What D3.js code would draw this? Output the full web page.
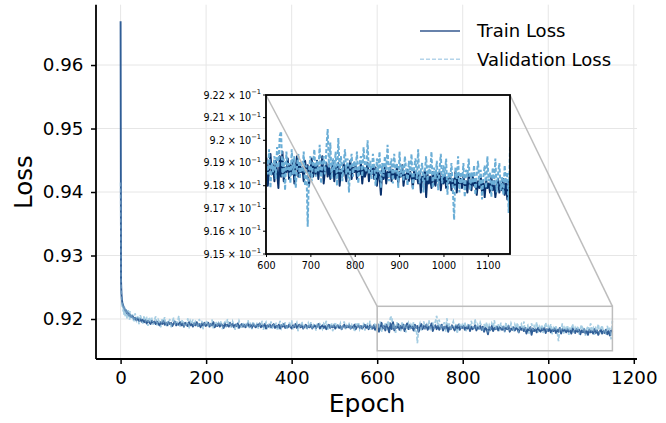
<!DOCTYPE html>
<html><head><meta charset="utf-8">
<script src="https://cdn.jsdelivr.net/npm/d3@7/dist/d3.min.js"></script>
<style>body{margin:0;background:#fff}svg{display:block;font-family:"DejaVu Sans",sans-serif}</style>
</head><body><svg id="c" width="666" height="423"></svg>
<script>
// early epochs 0..21 (every epoch), then every 3 epochs from 22 to 1150
const earlyEpochs = d3.range(0, 22);
const lateEpochs = d3.range(22, 1151, 3);
const epochs = earlyEpochs.concat(lateEpochs);

const trainLoss = [
0.9669,0.9262,0.9241,0.9231,0.9226,0.9223,0.9221,0.9219,0.9218,0.9216,0.9215,0.9213,0.9214,0.9211,0.9212,0.9209,0.9210,0.9208,0.9209,0.9206,0.9208,0.9205,
0.9207,0.9203,0.9205,0.9200,0.9202,0.9198,0.9201,0.9197,0.9200,0.9196,
0.9199,0.9195,0.9198,0.9193,0.9197,0.9195,0.9192,0.9197,0.9194,0.9196,
0.9192,0.9196,0.9193,0.9190,0.9195,0.9192,0.9197,0.9191,0.9194,0.9190,
0.9195,0.9192,0.9194,0.9189,0.9193,0.9196,0.9190,0.9193,0.9191,0.9195,
0.9190,0.9193,0.9188,0.9194,0.9191,0.9189,0.9195,0.9190,0.9192,0.9188,
0.9193,0.9190,0.9195,0.9189,0.9192,0.9187,0.9193,0.9190,0.9194,0.9189,
0.9191,0.9194,0.9188,0.9192,0.9190,0.9195,0.9187,0.9191,0.9189,0.9193,
0.9188,0.9192,0.9190,0.9186,0.9193,0.9189,0.9191,0.9188,0.9194,0.9189,
0.9192,0.9187,0.9191,0.9189,0.9193,0.9186,0.9190,0.9192,0.9188,0.9191,
0.9187,0.9190,0.9193,0.9188,0.9191,0.9186,0.9192,0.9189,0.9187,0.9191,
0.9189,0.9193,0.9187,0.9190,0.9188,0.9192,0.9185,0.9190,0.9188,0.9191,
0.9187,0.9190,0.9192,0.9186,0.9189,0.9187,0.9191,0.9185,0.9190,0.9188,
0.9192,0.9186,0.9189,0.9187,0.9191,0.9188,0.9185,0.9190,0.9187,0.9192,
0.9186,0.9189,0.9191,0.9187,0.9190,0.9185,0.9188,0.9191,0.9186,0.9189,
0.9187,0.9191,0.9185,0.9188,0.9190,0.9186,0.9189,0.9192,0.9185,0.9188,
0.9190,0.9186,0.9189,0.9184,0.9188,0.9191,0.9186,0.9189,0.9187,0.9190,
0.9185,0.9188,0.9190,0.9186,0.9189,0.9184,0.9188,0.9191,0.9186,0.9189,
0.9187,0.9190,0.9185,0.9188,0.9186,0.9191,0.9184,0.9188,0.9190,0.9186,
0.9189,0.9185,0.9188,0.9191,0.9186,0.9189,0.9184,0.9190,0.9187,0.9185,
0.9190,0.9183,0.9188,0.9192,0.9180,0.9187,0.9194,0.9185,0.9189,0.9182,
0.9191,0.9186,0.9179,0.9193,0.9184,0.9195,0.9182,0.9188,0.9186,0.9192,
0.9183,0.9189,0.9185,0.9191,0.9181,0.9188,0.9193,0.9184,0.9190,0.9186,
0.9188,0.9182,0.9191,0.9186,0.9189,0.9180,0.9187,0.9192,0.9184,0.9189,
0.9185,0.9191,0.9183,0.9188,0.9186,0.9193,0.9181,0.9187,0.9190,0.9184,
0.9189,0.9183,0.9187,0.9191,0.9182,0.9188,0.9185,0.9190,0.9180,0.9187,
0.9184,0.9190,0.9186,0.9182,0.9189,0.9185,0.9191,0.9183,0.9188,0.9186,
0.9189,0.9183,0.9187,0.9185,0.9190,0.9181,0.9188,0.9184,0.9186,0.9190,
0.9182,0.9187,0.9185,0.9189,0.9183,0.9188,0.9180,0.9186,0.9184,0.9176,
0.9187,0.9183,0.9189,0.9181,0.9186,0.9184,0.9188,0.9182,0.9187,0.9185,
0.9183,0.9188,0.9181,0.9186,0.9184,0.9189,0.9180,0.9185,0.9183,0.9187,
0.9182,0.9186,0.9184,0.9179,0.9187,0.9183,0.9185,0.9181,0.9186,0.9177,
0.9184,0.9182,0.9187,0.9175,0.9185,0.9181,0.9184,0.9179,0.9186,0.9182,
0.9180,0.9185,0.9182,0.9186,0.9178,0.9184,0.9181,0.9185,0.9179,0.9183,
0.9181,0.9185,0.9178,0.9183,0.9180,0.9186,0.9177,0.9184,0.9181,0.9183,
0.9179,0.9184,0.9180,0.9182,0.9177,0.9185,0.9181,0.9178,0.9184,0.9180,
0.9183,0.9176,0.9182,0.9179,0.9184,0.9177,0.9181,0.9175,0.9183,0.9179,
0.9181,0.9177,0.9184,0.9178,0.9182,0.9175,0.9180,0.9183,0.9177,0.9181,
0.9178,0.9183,0.9176,0.9181,0.9174,0.9182,0.9179];

const valLoss = [
0.9415,0.9262,0.9236,0.9224,0.9218,0.9226,0.9212,0.9221,0.9206,0.9219,0.9210,0.9204,0.9216,0.9208,0.9213,0.9201,0.9211,0.9205,0.9214,0.9203,0.9209,0.9199,
0.9212,0.9200,0.9207,0.9195,0.9209,0.9198,0.9204,0.9192,0.9206,0.9199,
0.9193,0.9205,0.9197,0.9201,0.9189,0.9203,0.9196,0.9200,0.9191,0.9198,
0.9204,0.9190,0.9199,0.9195,0.9187,0.9201,0.9194,0.9203,0.9189,0.9197,
0.9192,0.9200,0.9186,0.9196,0.9202,0.9190,0.9198,0.9193,0.9205,0.9188,
0.9195,0.9199,0.9187,0.9194,0.9191,0.9201,0.9185,0.9197,0.9192,0.9199,
0.9188,0.9196,0.9193,0.9186,0.9200,0.9190,0.9197,0.9184,0.9195,0.9192,
0.9198,0.9187,0.9194,0.9190,0.9199,0.9185,0.9193,0.9196,0.9188,0.9194,
0.9190,0.9197,0.9184,0.9192,0.9195,0.9187,0.9200,0.9189,0.9193,0.9186,
0.9196,0.9190,0.9183,0.9194,0.9188,0.9197,0.9191,0.9185,0.9195,0.9189,
0.9193,0.9186,0.9198,0.9188,0.9192,0.9184,0.9196,0.9190,0.9187,0.9194,
0.9185,0.9192,0.9189,0.9197,0.9183,0.9191,0.9195,0.9187,0.9193,0.9188,
0.9196,0.9184,0.9191,0.9188,0.9194,0.9182,0.9190,0.9197,0.9186,0.9192,
0.9188,0.9195,0.9183,0.9190,0.9193,0.9186,0.9198,0.9184,0.9191,0.9189,
0.9194,0.9181,0.9190,0.9187,0.9196,0.9185,0.9192,0.9188,0.9183,0.9193,
0.9187,0.9195,0.9184,0.9191,0.9189,0.9182,0.9194,0.9186,0.9192,0.9188,
0.9184,0.9193,0.9190,0.9197,0.9183,0.9189,0.9186,0.9194,0.9181,0.9191,
0.9195,0.9185,0.9190,0.9187,0.9193,0.9182,0.9189,0.9196,0.9184,0.9190,
0.9186,0.9194,0.9183,0.9191,0.9188,0.9180,0.9193,0.9187,0.9195,0.9184,
0.9190,0.9186,0.9194,0.9182,0.9189,0.9192,0.9185,0.9197,0.9183,0.9190,
0.9188,0.9194,0.9181,0.9191,0.9185,0.9196,0.9179,0.9190,0.9186,0.9193,
0.9183,0.9197,0.9188,0.9202,0.9204,0.9184,0.9192,0.9178,0.9195,0.9187,
0.9190,0.9181,0.9196,0.9185,0.9193,0.9179,0.9189,0.9194,0.9183,0.9191,
0.9186,0.9195,0.9180,0.9189,0.9162,0.9187,0.9193,0.9182,0.9190,0.9196,
0.9184,0.9191,0.9186,0.9198,0.9181,0.9190,0.9193,0.9185,0.9196,0.9205,
0.9188,0.9199,0.9183,0.9192,0.9187,0.9195,0.9180,0.9201,0.9186,0.9193,
0.9182,0.9190,0.9196,0.9185,0.9192,0.9177,0.9189,0.9194,0.9184,0.9191,
0.9187,0.9195,0.9181,0.9190,0.9193,0.9184,0.9197,0.9188,0.9186,0.9200,
0.9185,0.9191,0.9183,0.9194,0.9188,0.9180,0.9192,0.9186,0.9195,0.9179,
0.9190,0.9184,0.9193,0.9187,0.9198,0.9182,0.9189,0.9192,0.9181,0.9194,
0.9186,0.9190,0.9179,0.9195,0.9184,0.9189,0.9182,0.9193,0.9187,0.9180,
0.9191,0.9185,0.9194,0.9178,0.9188,0.9192,0.9183,0.9196,0.9181,0.9187,
0.9190,0.9177,0.9186,0.9193,0.9182,0.9189,0.9185,0.9195,0.9179,0.9188,
0.9183,0.9191,0.9178,0.9187,0.9194,0.9181,0.9189,0.9184,0.9192,0.9176,
0.9186,0.9182,0.9190,0.9179,0.9165,0.9188,0.9183,0.9193,0.9177,0.9186,
0.9181,0.9190,0.9175,0.9187,0.9184,0.9192,0.9178,0.9186,0.9181,0.9189,
0.9176,0.9185,0.9191,0.9180,0.9187,0.9174,0.9184,0.9189,0.9179,0.9193,
0.9182,0.9186,0.9175,0.9188,0.9180,0.9192,0.9177,0.9185,0.9190,0.9178,
0.9184,0.9176,0.9189,0.9181,0.9186,0.9168,0.9197];

const xTicks = [0, 200, 400, 600, 800, 1000, 1200];
const yTicks = [0.92, 0.93, 0.94, 0.95, 0.96];
const insetXTicks = [600, 700, 800, 900, 1000, 1100];
const insetYTicks = [0.915, 0.916, 0.917, 0.918, 0.919, 0.920, 0.921, 0.922];
const insetXDomain = [600, 1150];
const insetYDomain = [0.915, 0.922];
const seriesNames = ["Train Loss", "Validation Loss"];

const trainData = epochs.map((e, i) => [e, trainLoss[i]]);
const valData = epochs.map((e, i) => [e, valLoss[i]]);

const svg = d3.select("#c");
const x = d3.scaleLinear().domain([-57.5, 1207.5]).range([96, 637]);
const y = d3.scaleLinear().domain([0.9137, 0.9695]).range([359, 4.7]);

// grid
const grid = svg.append("g").attr("stroke", "#e6e6e6").attr("stroke-width", 1);
xTicks.forEach(t => grid.append("line").attr("x1", x(t)).attr("x2", x(t)).attr("y1", y.range()[1]).attr("y2", y.range()[0]));
yTicks.forEach(t => grid.append("line").attr("x1", x.range()[0]).attr("x2", x.range()[1]).attr("y1", y(t)).attr("y2", y(t)));

// main lines
svg.append("defs").append("clipPath").attr("id", "mainclip").append("rect")
  .attr("x", 96).attr("y", 4.7).attr("width", 541).attr("height", 354.3);
const line = d3.line().x(d => x(d[0])).y(d => y(d[1]));
const mg = svg.append("g").attr("clip-path", "url(#mainclip)");
mg.append("path").datum(valData).attr("d", line).attr("fill", "none")
  .attr("stroke", "#a6cee3").attr("stroke-width", 1.6).attr("stroke-dasharray", "4,2");
mg.append("path").datum(trainData).attr("d", line).attr("fill", "none")
  .attr("stroke", "#2f5d96").attr("stroke-width", 1.9).attr("stroke-linejoin", "round");
mg.append("path").datum(valData).attr("d", line).attr("fill", "none")
  .attr("stroke", "#a6cee3").attr("stroke-opacity", 0.5).attr("stroke-width", 1.3).attr("stroke-dasharray", "4,2");

// axes
const xAxis = d3.axisBottom(x).tickValues(xTicks).tickSize(5).tickPadding(7.5).tickFormat(d3.format("d"));
const yAxis = d3.axisLeft(y).tickValues(yTicks).tickSize(5).tickPadding(7.5).tickFormat(d3.format(".2f"));
const gx = svg.append("g").attr("transform", "translate(0,359)").call(xAxis);
const gy = svg.append("g").attr("transform", "translate(96,0)").call(yAxis);
[gx, gy].forEach(g => {
  g.select(".domain").attr("stroke", "#000").attr("stroke-width", 1.8);
  g.selectAll(".tick line").attr("stroke", "#000").attr("stroke-width", 1.5);
  g.selectAll(".tick text").attr("font-size", 18.3).attr("fill", "#000").attr("font-family", "DejaVu Sans");
});
gx.select(".domain").attr("d", "M96,0H637");
gy.select(".domain").attr("d", "M0,4.7V359");

svg.append("text").attr("x", 367).attr("y", 412).attr("text-anchor", "middle")
  .attr("font-size", 25).text("Epoch");
svg.append("text").attr("transform", "translate(31.5,182) rotate(-90)").attr("text-anchor", "middle")
  .attr("font-size", 24.5).text("Loss");

// legend
const leg = svg.append("g");
const legColors = ["#34598f", "#b4d4ea"];
seriesNames.forEach((n, i) => {
  const ly = 31 + i * 28.3;
  leg.append("line").attr("x1", 420).attr("x2", 460).attr("y1", ly).attr("y2", ly)
    .attr("stroke", legColors[i]).attr("stroke-width", 1.5).attr("stroke-dasharray", i ? "4,2" : null);
  leg.append("text").attr("x", 477).attr("y", ly + 6.3).attr("font-size", 18).text(n);
});

// inset
const ix = d3.scaleLinear().domain(insetXDomain).range([266, 510]);
const iy = d3.scaleLog().domain(insetYDomain).range([254, 95]);

// zoom rectangle on main
svg.append("rect").attr("x", x(insetXDomain[0])).attr("y", y(insetYDomain[1]))
  .attr("width", x(insetXDomain[1]) - x(insetXDomain[0])).attr("height", y(insetYDomain[0]) - y(insetYDomain[1]))
  .attr("fill", "none").attr("stroke", "#bdbdbd").attr("stroke-width", 1.5);

svg.append("rect").attr("x", 266).attr("y", 95).attr("width", 244).attr("height", 159).attr("fill", "#fff");
svg.append("defs").append("clipPath").attr("id", "insetclip").append("rect")
  .attr("x", 266).attr("y", 95).attr("width", 244).attr("height", 159);
const iline = d3.line().x(d => ix(d[0])).y(d => iy(d[1]));
const ig = svg.append("g").attr("clip-path", "url(#insetclip)");
const inRange = d => d[0] >= 590 && d[0] <= 1150;
ig.append("path").datum(trainData.filter(inRange)).attr("d", iline).attr("fill", "none")
  .attr("stroke", "#08306b").attr("stroke-width", 2).attr("stroke-linejoin", "round");
ig.append("path").datum(valData.filter(inRange)).attr("d", iline).attr("fill", "none")
  .attr("stroke", "#6baed6").attr("stroke-width", 2).attr("stroke-dasharray", "4,2");

// connectors
svg.append("line").attr("x1", 266).attr("y1", 95).attr("x2", x(insetXDomain[0])).attr("y2", y(insetYDomain[1]))
  .attr("stroke", "#bdbdbd").attr("stroke-width", 1.5);
svg.append("line").attr("x1", 510).attr("y1", 95).attr("x2", x(insetXDomain[1])).attr("y2", y(insetYDomain[1]))
  .attr("stroke", "#bdbdbd").attr("stroke-width", 1.5);

svg.append("rect").attr("x", 266).attr("y", 95).attr("width", 244).attr("height", 159)
  .attr("fill", "none").attr("stroke", "#000").attr("stroke-width", 1.8);

// inset axes
const igx = svg.append("g").attr("transform", "translate(0,254)")
  .call(d3.axisBottom(ix).tickValues(insetXTicks).tickSize(3).tickPadding(5).tickFormat(d3.format("d")));
igx.select(".domain").remove();
igx.selectAll(".tick text").attr("font-size", 9.6).attr("font-family", "DejaVu Sans").attr("fill", "#000");
igx.selectAll(".tick line").attr("stroke", "#000");

const igy = svg.append("g");
insetYTicks.forEach(t => {
  const yy = iy(t);
  igy.append("line").attr("x1", 263).attr("x2", 266).attr("y1", yy).attr("y2", yy).attr("stroke", "#000");
  const mant = d3.format(".3~f")(t * 10);
  const tx = igy.append("text").attr("x", 261).attr("y", yy + 3.5).attr("text-anchor", "end").attr("font-size", 9.6);
  tx.append("tspan").text(mant + " \u00d7 10");
  tx.append("tspan").attr("font-size", 6.7).attr("dy", -4.5).text("\u22121");
});
</script></body></html>
